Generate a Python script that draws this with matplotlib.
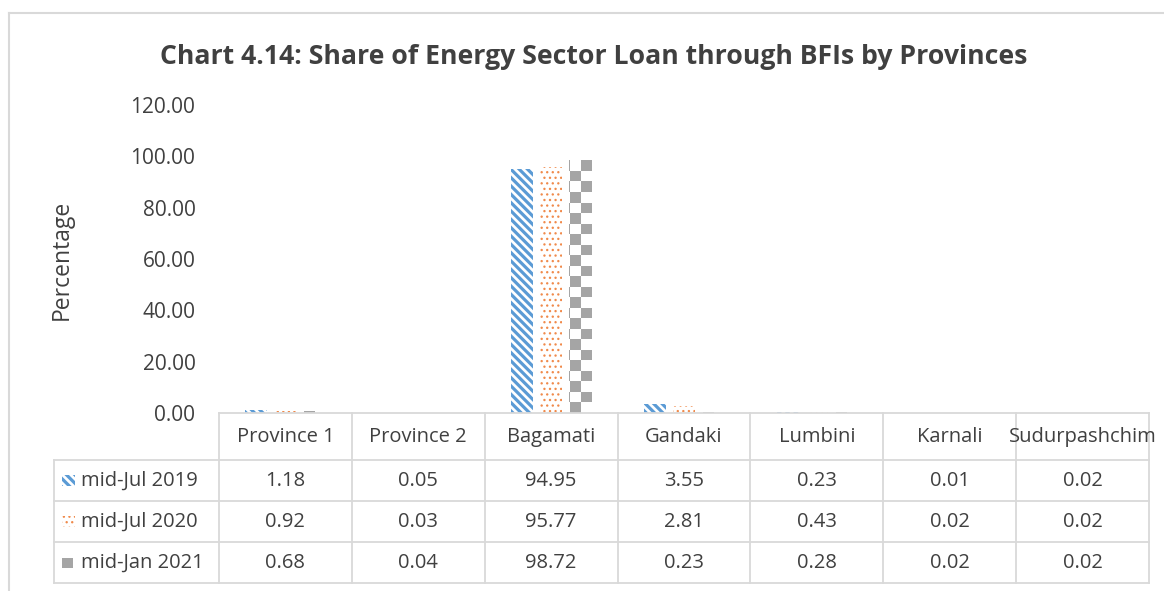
import matplotlib
import matplotlib.pyplot as plt
import numpy as np
from matplotlib import transforms
from matplotlib.colors import ListedColormap
from matplotlib.lines import Line2D
from matplotlib.patches import Rectangle

matplotlib.use("Agg")

provinces = ["Province 1", "Province 2", "Bagamati", "Gandaki",
             "Lumbini", "Karnali", "Sudurpashchim"]
series_names = ["mid-Jul 2019", "mid-Jul 2020", "mid-Jan 2021"]
jul_2019 = [1.18, 0.05, 94.95, 3.55, 0.23, 0.01, 0.02]
jul_2020 = [0.92, 0.03, 95.77, 2.81, 0.43, 0.02, 0.02]
jan_2021 = [0.68, 0.04, 98.72, 0.23, 0.28, 0.02, 0.02]
y_ticks = [0, 20, 40, 60, 80, 100, 120]

BLUE = "#5b9bd5"
ORANGE = "#f08a4b"
GRAY = "#a5a5a5"
LINE = "#d9d9d9"
TEXT = "#404040"
FONT = "Open Sans"

W, H = 1164, 591
fig = plt.figure(figsize=(W / 100, H / 100), dpi=100)


def fx(px):
    return px / W


def fy(py):
    return 1 - py / H


ax = fig.add_axes([fx(219), fy(413), fx(1149) - fx(219), fy(105) - fy(413)])
ax.set_xlim(-0.5, len(provinces) - 0.5)
ax.set_ylim(0, 120)

x = np.arange(len(provinces))
offset = 0.218
width = 0.166

BLUE_HATCH = ("\\" * 4, 2.3)
ORANGE_HATCH = ("...", 0.9)


def hatched_bars(xs, vals, color, hatch, lw):
    with plt.rc_context({"hatch.linewidth": lw}):
        bars = ax.bar(xs, vals, width, facecolor="white", edgecolor=color,
                      linewidth=0, hatch=hatch, zorder=2)
    for b in bars:
        if hasattr(b, "set_hatch_linewidth"):
            b.set_hatch_linewidth(lw)
    return bars


hatched_bars(x - offset, jul_2019, BLUE, *BLUE_HATCH)
hatched_bars(x, jul_2020, ORANGE, *ORANGE_HATCH)
gray_bars = ax.bar(x + offset, jan_2021, width, facecolor="white",
                   linewidth=0, zorder=2)

checker_cmap = ListedColormap(["white", GRAY])


def checker_fill(patch, sq_px=10.5):
    # checkerboard pattern, clipped to the bar
    x0, y0 = patch.get_x(), patch.get_y()
    w, h = patch.get_width(), patch.get_height()
    p0 = ax.transData.transform((x0, y0))
    p1 = ax.transData.transform((x0 + w, y0 + h))
    wpx, hpx = p1 - p0
    nc = int(np.ceil(wpx / sq_px))
    nr = max(1, int(np.ceil(hpx / sq_px)))
    grid = np.add.outer(np.arange(nr), np.arange(nc)) % 2
    x_left = x0 + w - nc * sq_px * w / wpx
    y_top = y0 + nr * sq_px * (h / hpx if hpx > 0 else 0.4)
    im = ax.imshow(grid, cmap=checker_cmap, extent=(x_left, x0 + w, y0, y_top),
                   origin="lower", aspect="auto", interpolation="nearest",
                   zorder=2.5, vmin=0, vmax=1)
    im.set_clip_path(patch)


for b in gray_bars:
    checker_fill(b)

ax.set_xlim(-0.5, len(provinces) - 0.5)
ax.set_ylim(0, 120)
ax.set_yticks(y_ticks)
ax.set_yticklabels([f"{t:.2f}" for t in y_ticks], fontfamily=FONT,
                   fontsize=15, color=TEXT)
ax.tick_params(axis="y", length=0, pad=17)
ax.set_xticks([])
for side in ["top", "left", "right"]:
    ax.spines[side].set_visible(False)
ax.spines["bottom"].set_color(LINE)
ax.spines["bottom"].set_linewidth(1.3)

fig.text(fx(594), fy(57), "Chart 4.14: Share of Energy Sector Loan through BFIs by Provinces",
         ha="center", va="center", fontfamily=FONT, fontweight="bold",
         fontsize=19.2, color=TEXT)
fig.text(fx(62), fy(260), "Percentage", rotation=90, ha="center", va="center",
         fontfamily=FONT, fontsize=16.5, color=TEXT)

# data table below the axis
blend = transforms.blended_transform_factory(ax.transData, fig.transFigure)
row_lines = [460, 501, 542, 583]
header_y = 437
row_y = [481, 522, 563]

for yl in row_lines:
    fig.add_artist(Line2D([fx(54), fx(1149)], [fy(yl), fy(yl)], color=LINE, lw=1.3))
fig.add_artist(Line2D([fx(54), fx(54)], [fy(460), fy(583)], color=LINE, lw=1.3))
for k in range(len(provinces) + 1):
    fig.add_artist(Line2D([k - 0.5, k - 0.5], [fy(413), fy(583)], color=LINE,
                          lw=1.3, transform=blend))

for i, name in enumerate(provinces):
    fig.text(i, fy(header_y), name, transform=blend, ha="center", va="center",
             fontfamily=FONT, fontsize=14.5, color=TEXT)

for vals, yy in zip([jul_2019, jul_2020, jan_2021], row_y):
    for i, v in enumerate(vals):
        fig.text(i, fy(yy), f"{v:.2f}", transform=blend, ha="center",
                 va="center", fontfamily=FONT, fontsize=14.5, color=TEXT)

# legend keys in the first column
swatch_styles = [(BLUE, BLUE_HATCH), (ORANGE, ORANGE_HATCH), (GRAY, None)]
for (color, hs), name, yy in zip(swatch_styles, series_names, row_y):
    if hs is None:
        sw = Rectangle((fx(62), fy(yy + 5)), fx(11), 10 / H, facecolor=GRAY,
                       edgecolor="none", transform=fig.transFigure)
    else:
        with plt.rc_context({"hatch.linewidth": hs[1]}):
            sw = Rectangle((fx(62), fy(yy + 5)), fx(13), 11 / H,
                           facecolor="white", edgecolor=color, linewidth=0,
                           hatch=hs[0], transform=fig.transFigure)
        if hasattr(sw, "set_hatch_linewidth"):
            sw.set_hatch_linewidth(hs[1])
    fig.add_artist(sw)
    fig.text(fx(81), fy(yy), name, ha="left", va="center", fontfamily=FONT,
             fontsize=14.5, color=TEXT)

# outer chart frame
fig.add_artist(Line2D([fx(9), fx(9)], [fy(13), 0], color=LINE, lw=1.5))
fig.add_artist(Line2D([fx(9), 1], [fy(13), fy(13)], color=LINE, lw=1.5))

fig.savefig("out.png", dpi=100)
